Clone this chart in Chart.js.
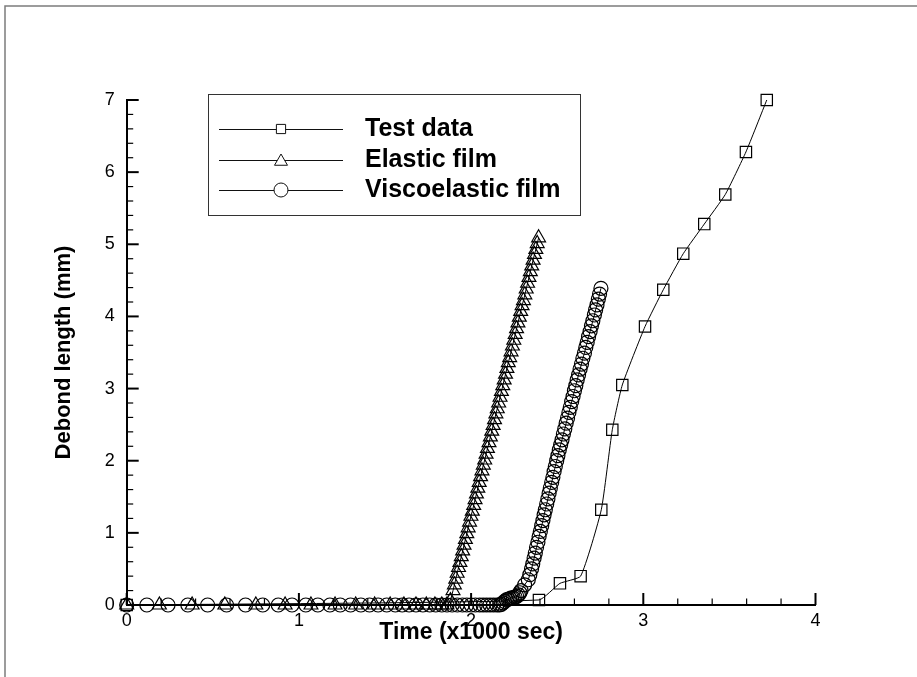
<!DOCTYPE html>
<html>
<head>
<meta charset="utf-8">
<title>Debond length vs time</title>
<script src="https://cdn.jsdelivr.net/npm/chart.js@4/dist/chart.umd.min.js"></script>
<style>
  html, body { margin: 0; padding: 0; background: #ffffff; }
  #wrap { width: 917px; height: 677px; position: relative; }
</style>
</head>
<body>
<div id="wrap"><canvas id="chart" width="917" height="677"></canvas></div>
<script>
// ---- axis labels ----
const xTickLabels = ['0', '1', '2', '3', '4'];
const yTickLabels = ['0', '1', '2', '3', '4', '5', '6', '7'];
const xTitle = 'Time (x1000 sec)';
const yTitle = 'Debond length (mm)';
const seriesNames = ['Test data', 'Elastic film', 'Viscoelastic film'];

// ---- measured debond length, [time (x1000 s), length (mm)] ----
const testData = [
  [0, 0], [2.394, 0.07], [2.516, 0.30], [2.636, 0.40], [2.756, 1.32], [2.820, 2.43],
  [2.878, 3.05], [3.010, 3.86], [3.116, 4.37], [3.232, 4.87], [3.354, 5.28],
  [3.476, 5.69], [3.596, 6.28], [3.717, 7.00]
];

// ---- elastic film model ----
const elasticFlat = [
  [0, 0], [0.19, 0], [0.38, 0], [0.57, 0], [0.75, 0], [0.92, 0], [1.07, 0], [1.21, 0],
  [1.33, 0], [1.44, 0], [1.53, 0], [1.61, 0], [1.68, 0], [1.74, 0], [1.79, 0], [1.83, 0],
  [1.86, 0], [1.88, 0.06]
];
const elasticGrowth = [
  [1.895, 0.20], [1.903, 0.28], [1.911, 0.36], [1.919, 0.44], [1.927, 0.52], [1.935, 0.59],
  [1.943, 0.67], [1.951, 0.75], [1.959, 0.83], [1.967, 0.91], [1.975, 0.99], [1.983, 1.07],
  [1.991, 1.15], [1.999, 1.23], [2.007, 1.30], [2.015, 1.38], [2.023, 1.46], [2.031, 1.54],
  [2.039, 1.62], [2.047, 1.70], [2.055, 1.78], [2.063, 1.86], [2.071, 1.94], [2.079, 2.01],
  [2.087, 2.09], [2.095, 2.17], [2.104, 2.25], [2.112, 2.33], [2.120, 2.41], [2.128, 2.49],
  [2.136, 2.57], [2.144, 2.65], [2.152, 2.72], [2.160, 2.80], [2.168, 2.88], [2.176, 2.96],
  [2.184, 3.04], [2.192, 3.12], [2.200, 3.20], [2.208, 3.28], [2.216, 3.36], [2.224, 3.43],
  [2.232, 3.51], [2.240, 3.59], [2.248, 3.67], [2.256, 3.75], [2.264, 3.83], [2.272, 3.91],
  [2.280, 3.99], [2.288, 4.07], [2.296, 4.15], [2.304, 4.22], [2.312, 4.30], [2.320, 4.38],
  [2.328, 4.46], [2.336, 4.54], [2.344, 4.62], [2.352, 4.70], [2.360, 4.78], [2.368, 4.86],
  [2.376, 4.93], [2.384, 5.01], [2.392, 5.09]
];

// ---- viscoelastic film model ----
const viscoFlat = [
  [0, 0], [0.117, 0], [0.24, 0], [0.355, 0], [0.47, 0], [0.58, 0], [0.69, 0], [0.79, 0],
  [0.88, 0], [0.96, 0], [1.04, 0], [1.11, 0], [1.18, 0], [1.24, 0], [1.30, 0], [1.36, 0],
  [1.41, 0], [1.46, 0], [1.51, 0], [1.56, 0], [1.60, 0], [1.64, 0], [1.68, 0], [1.72, 0],
  [1.76, 0], [1.795, 0], [1.83, 0], [1.86, 0], [1.89, 0], [1.92, 0], [1.95, 0], [1.975, 0],
  [2.00, 0], [2.025, 0], [2.05, 0], [2.07, 0], [2.09, 0], [2.11, 0], [2.13, 0], [2.15, 0],
  [2.165, 0]
];
const viscoOnset = [
  [2.175, 0.01], [2.185, 0.03], [2.195, 0.05], [2.205, 0.07], [2.215, 0.08], [2.225, 0.09],
  [2.235, 0.10], [2.245, 0.10], [2.255, 0.11], [2.265, 0.12], [2.275, 0.14], [2.283, 0.17]
];
const viscoGrowth = [
  [2.290, 0.20], [2.311, 0.28], [2.332, 0.35], [2.341, 0.42], [2.351, 0.50], [2.358, 0.57],
  [2.366, 0.65], [2.373, 0.72], [2.380, 0.80], [2.388, 0.87], [2.395, 0.95], [2.402, 1.02],
  [2.410, 1.10], [2.417, 1.17], [2.424, 1.25], [2.431, 1.32], [2.439, 1.40], [2.446, 1.47],
  [2.453, 1.55], [2.460, 1.62], [2.468, 1.70], [2.475, 1.77], [2.482, 1.85], [2.489, 1.92],
  [2.497, 2.00], [2.504, 2.07], [2.512, 2.15], [2.520, 2.22], [2.528, 2.29], [2.536, 2.37],
  [2.544, 2.44], [2.552, 2.52], [2.560, 2.59], [2.568, 2.67], [2.576, 2.74], [2.584, 2.82],
  [2.592, 2.89], [2.600, 2.97], [2.608, 3.04], [2.616, 3.12], [2.624, 3.19], [2.633, 3.27],
  [2.641, 3.34], [2.649, 3.42], [2.658, 3.49], [2.666, 3.57], [2.674, 3.64], [2.682, 3.72],
  [2.691, 3.79], [2.699, 3.87], [2.707, 3.94], [2.716, 4.02], [2.723, 4.09], [2.731, 4.16],
  [2.739, 4.24], [2.746, 4.31], [2.754, 4.39]
];

const toPoints = (rows) => rows.map(([t, L]) => ({ x: t, y: L }));

const FONT = '"Liberation Sans", Arial, Helvetica, sans-serif';

// thin outer frame (top and left edges of the page border)
const framePlugin = {
  id: 'pageFrame',
  beforeDraw(chart) {
    const ctx = chart.ctx;
    ctx.save();
    ctx.fillStyle = '#ffffff';
    ctx.fillRect(0, 0, chart.width, chart.height);
    ctx.strokeStyle = '#7c7c7c';
    ctx.lineWidth = 1.5;
    ctx.beginPath();
    ctx.moveTo(5, chart.height);
    ctx.lineTo(5, 6);
    ctx.lineTo(chart.width, 6);
    ctx.stroke();
    ctx.restore();
  }
};

// inward-pointing major and minor tick marks on both axes
const inwardTicks = {
  id: 'inwardTicks',
  afterDraw(chart) {
    const { ctx, scales: { x, y }, chartArea } = chart;
    ctx.save();
    ctx.strokeStyle = '#000';
    for (let i = 0; i <= 20; i++) {
      const v = i * 0.2;
      const major = i % 5 === 0;
      const px = x.getPixelForValue(v);
      ctx.lineWidth = major ? 2 : 1.2;
      ctx.beginPath();
      ctx.moveTo(px, chartArea.bottom);
      ctx.lineTo(px, chartArea.bottom - (major ? 12 : 6.5));
      ctx.stroke();
    }
    for (let i = 0; i <= 35; i++) {
      const v = i * 0.2;
      const major = i % 5 === 0;
      const py = y.getPixelForValue(v);
      ctx.lineWidth = major ? 2 : 1.2;
      ctx.beginPath();
      ctx.moveTo(chartArea.left, py);
      ctx.lineTo(chartArea.left + (major ? 12 : 6.5), py);
      ctx.stroke();
    }
    ctx.restore();
  }
};

function drawMarker(ctx, style, cx, cy, r) {
  ctx.beginPath();
  if (style === 'rect') {
    const s = r * Math.SQRT1_2;
    ctx.rect(cx - s, cy - s, 2 * s, 2 * s);
  } else if (style === 'triangle') {
    let a = 0;
    ctx.moveTo(cx + Math.sin(a) * r, cy - Math.cos(a) * r);
    a += 2 * Math.PI / 3;
    ctx.lineTo(cx + Math.sin(a) * r, cy - Math.cos(a) * r);
    a += 2 * Math.PI / 3;
    ctx.lineTo(cx + Math.sin(a) * r, cy - Math.cos(a) * r);
    ctx.closePath();
  } else {
    ctx.arc(cx, cy, r, 0, Math.PI * 2);
  }
  ctx.fill();
  ctx.stroke();
}

// boxed legend with a line through each symbol
const boxedLegend = {
  id: 'boxedLegend',
  afterDraw(chart) {
    const ctx = chart.ctx;
    const box = { x: 208, y: 94, w: 372, h: 121 };
    ctx.save();
    ctx.fillStyle = '#ffffff';
    ctx.fillRect(box.x, box.y, box.w, box.h);
    ctx.strokeStyle = '#333';
    ctx.lineWidth = 1;
    ctx.strokeRect(box.x + 0.5, box.y + 0.5, box.w, box.h);
    const rows = [129, 160, 190];
    chart.data.datasets.forEach((ds, i) => {
      const yy = rows[i];
      ctx.strokeStyle = '#111';
      ctx.lineWidth = 1;
      ctx.beginPath();
      ctx.moveTo(219, yy + 0.5);
      ctx.lineTo(343, yy + 0.5);
      ctx.stroke();
      ctx.fillStyle = '#ffffff';
      const r = ds.pointStyle === 'rect' ? 6.5 : ds.pointStyle === 'triangle' ? 7.5 : 7;
      drawMarker(ctx, ds.pointStyle, 281, yy + (ds.pointStyle === 'triangle' ? 1.5 : 0), r);
      ctx.fillStyle = '#000';
      ctx.font = 'bold 25px ' + FONT;
      ctx.textAlign = 'left';
      ctx.textBaseline = 'middle';
      ctx.fillText(ds.label, 365, yy);
    });
    ctx.restore();
  }
};

const seriesStyle = {
  borderColor: '#000',
  backgroundColor: 'rgba(0,0,0,0)',
  pointBorderColor: '#000',
  pointBackgroundColor: 'rgba(0,0,0,0)',
  borderWidth: 1,
  pointBorderWidth: 1.2,
  showLine: true,
  clip: false
};

new Chart(document.getElementById('chart'), {
  type: 'scatter',
  data: {
    datasets: [
      Object.assign({}, seriesStyle, {
        label: seriesNames[0],
        data: toPoints(testData),
        pointStyle: 'rect',
        pointRadius: 8,
        tension: 0.15
      }),
      Object.assign({}, seriesStyle, {
        label: seriesNames[1],
        data: toPoints(elasticFlat.concat(elasticGrowth)),
        pointStyle: 'triangle',
        pointRadius: 8
      }),
      Object.assign({}, seriesStyle, {
        label: seriesNames[2],
        data: toPoints(viscoFlat.concat(viscoOnset, viscoGrowth)),
        pointStyle: 'circle',
        pointRadius: 7
      })
    ]
  },
  options: {
    responsive: false,
    animation: false,
    devicePixelRatio: 1,
    layout: { padding: { left: 0, top: 100, right: 101.5, bottom: 0 } },
    plugins: {
      legend: { display: false },
      tooltip: { enabled: false }
    },
    scales: {
      x: {
        type: 'linear',
        min: 0,
        max: 4,
        grid: { display: false, drawTicks: false },
        border: { display: true, color: '#000', width: 2 },
        ticks: {
          stepSize: 1,
          padding: 5,
          color: '#000',
          font: { family: FONT, size: 18 },
          callback: (v) => xTickLabels[v]
        },
        title: {
          display: true,
          text: xTitle,
          color: '#000',
          font: { family: FONT, size: 23, weight: 'bold' },
          padding: { top: 0, bottom: 31 }
        },
        afterFit(scale) {
          scale.height = 72;
          scale.paddingLeft = 0;
          scale.paddingRight = 0;
        }
      },
      y: {
        type: 'linear',
        min: 0,
        max: 7,
        grid: { display: false, drawTicks: false },
        border: { display: true, color: '#000', width: 2 },
        ticks: {
          stepSize: 1,
          padding: 12,
          color: '#000',
          font: { family: FONT, size: 18 },
          callback: (v) => yTickLabels[v]
        },
        title: {
          display: true,
          text: yTitle,
          color: '#000',
          font: { family: FONT, size: 22, weight: 'bold' },
          padding: { top: 51, bottom: 0 }
        },
        afterFit(scale) {
          scale.width = 126.7;
          scale.paddingTop = 0;
          scale.paddingBottom = 0;
        }
      }
    }
  },
  plugins: [framePlugin, inwardTicks, boxedLegend]
});
</script>
</body>
</html>
